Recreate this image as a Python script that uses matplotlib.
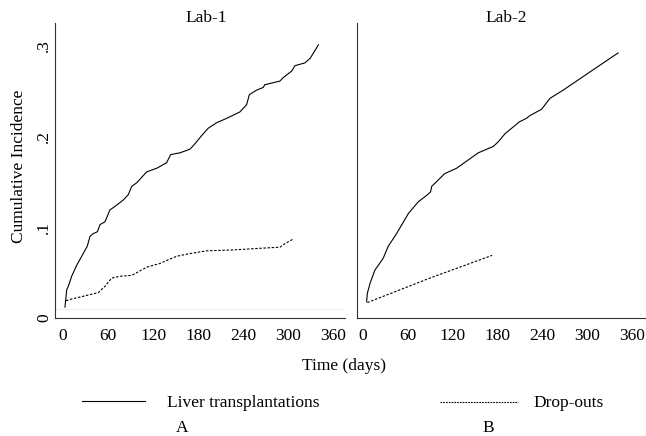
import matplotlib
matplotlib.use("Agg")
import matplotlib.pyplot as plt
from matplotlib.lines import Line2D

plt.rcParams['font.family'] = ['Liberation Serif', 'DejaVu Serif']

# Lab-1, liver transplantations (days, cumulative incidence)
lab1_lt_days = [2.6, 4.9, 7.1, 11.5, 18.2, 24.9, 32.3, 36, 40.3, 45.8, 49.4, 56, 62.5, 69.3, 80.4,
                87.1, 91.6, 98.3, 111.6, 125, 138, 143.6, 156, 169.3, 176, 184.9, 193.5, 204.5,
                218.3, 235.8, 244.8, 248.4, 258, 267, 269, 289.2, 293.8, 304.9, 309.3, 322.4,
                329.5, 340.6]
lab1_lt_ci = [0.012, 0.031, 0.035, 0.046, 0.058, 0.068, 0.079, 0.090, 0.093, 0.095, 0.103, 0.106,
              0.119, 0.123, 0.130, 0.136, 0.145, 0.149, 0.161, 0.165, 0.171, 0.180, 0.182, 0.186,
              0.192, 0.201, 0.209, 0.215, 0.220, 0.227, 0.235, 0.246, 0.251, 0.254, 0.257, 0.261,
              0.265, 0.272, 0.278, 0.281, 0.286, 0.301]

# Lab-1, drop-outs
lab1_do_days = [4.1, 11.5, 27.2, 47.1, 56, 64.9, 76, 91.7, 98.3, 111.6, 129, 142.7, 151.6, 169.3,
                191.4, 226.7, 267, 289.2, 296, 307.1]
lab1_do_ci = [0.019, 0.021, 0.024, 0.028, 0.035, 0.044, 0.046, 0.047, 0.050, 0.056, 0.060, 0.065,
              0.068, 0.071, 0.074, 0.075, 0.077, 0.078, 0.082, 0.087]

# Lab-2, liver transplantations
lab2_lt_days = [4.9, 5.8, 9.4, 16.1, 20.5, 27.2, 33.8, 45, 60.7, 74, 85.2, 90.6, 92, 109.4, 125.4,
                154.4, 174.5, 181, 190.2, 209.3, 218.9, 223.6, 239.2, 250.4, 268, 303.8, 341.6]
lab2_lt_ci = [0.018, 0.027, 0.038, 0.053, 0.058, 0.066, 0.079, 0.093, 0.115, 0.128, 0.135, 0.139,
              0.145, 0.159, 0.165, 0.182, 0.189, 0.194, 0.203, 0.216, 0.220, 0.223, 0.230, 0.242,
              0.251, 0.271, 0.292]

# Lab-2, drop-outs
lab2_do_days = [5.8, 89.7, 172.9]
lab2_do_ci = [0.017, 0.044, 0.069]

xticks = [0, 60, 120, 180, 240, 300, 360]
yticks = [0, 0.1, 0.2, 0.3]
ytick_labels = ['0', '.1', '.2', '.3']

W, H = 646, 436
fig = plt.figure(figsize=(W / 100, H / 100), dpi=100)

def box(l, r, t, b):  # pixel box -> figure fraction rect
    return [l / W, 1 - b / H, (r - l) / W, (b - t) / H]

ax1 = fig.add_axes(box(55, 345, 23, 318))
ax2 = fig.add_axes(box(357, 646, 23, 318))

fs = 12.5
dash_plot = (0, (2.2, 1.5))
lw = 0.8

ax1.plot(lab1_lt_days, lab1_lt_ci, color='black', lw=lw)
ax1.plot(lab1_do_days, lab1_do_ci, color='black', lw=lw, linestyle=dash_plot)
ax1.axhline(0.01, color='#f0f0f0', lw=0.8, zorder=0)
ax2.plot(lab2_lt_days, lab2_lt_ci, color='black', lw=lw)
ax2.plot(lab2_do_days, lab2_do_ci, color='black', lw=lw, linestyle=dash_plot)

ax1.set_xlim(-10.7, 376)
ax2.set_xlim(-8, 379)
for ax in (ax1, ax2):
    ax.set_ylim(0, 0.325)
    ax.spines['top'].set_visible(False)
    ax.spines['right'].set_visible(False)
    ax.spines['left'].set_color('#333333')
    ax.spines['bottom'].set_color('#333333')
    ax.set_xticks(xticks)
    ax.set_xticklabels([str(t) for t in xticks], fontsize=fs)
    ax.tick_params(axis='x', length=0, pad=7.5)
    ax.set_facecolor('none')

ax1.set_yticks(yticks)
ax1.set_yticklabels(ytick_labels, fontsize=fs, rotation=90, va='center')
ax1.tick_params(axis='y', length=0, pad=2)
ax2.set_yticks([])

fig.text(206 / W, 1 - 22 / H, 'Lab-1', fontsize=fs, ha='center', va='baseline')
fig.text(506 / W, 1 - 22 / H, 'Lab-2', fontsize=fs, ha='center', va='baseline')
fig.text(19 / W, 1 - 166 / H, 'Cumulative Incidence', fontsize=fs, rotation=90,
         ha='center', va='center')
fig.text(344 / W, 1 - 370 / H, 'Time (days)', fontsize=fs, ha='center', va='baseline')

# legend row
fig.add_artist(Line2D([82 / W, 145 / W], [1 - 401 / H, 1 - 401 / H], color='black', lw=lw))
fig.text(167 / W, 1 - 407 / H, 'Liver transplantations', fontsize=fs, ha='left', va='baseline')
fig.add_artist(Line2D([440 / W, 518 / W], [1 - 402 / H, 1 - 402 / H], color='black', lw=lw,
                      linestyle=(0, (1.5, 1.0))))
fig.text(533 / W, 1 - 407 / H, 'Drop-outs', fontsize=fs, ha='left', va='baseline')
fig.text(182 / W, 1 - 432 / H, 'A', fontsize=fs, ha='center', va='baseline')
fig.text(488 / W, 1 - 432 / H, 'B', fontsize=fs, ha='center', va='baseline')

fig.savefig('out.png', dpi=100, facecolor='white')
